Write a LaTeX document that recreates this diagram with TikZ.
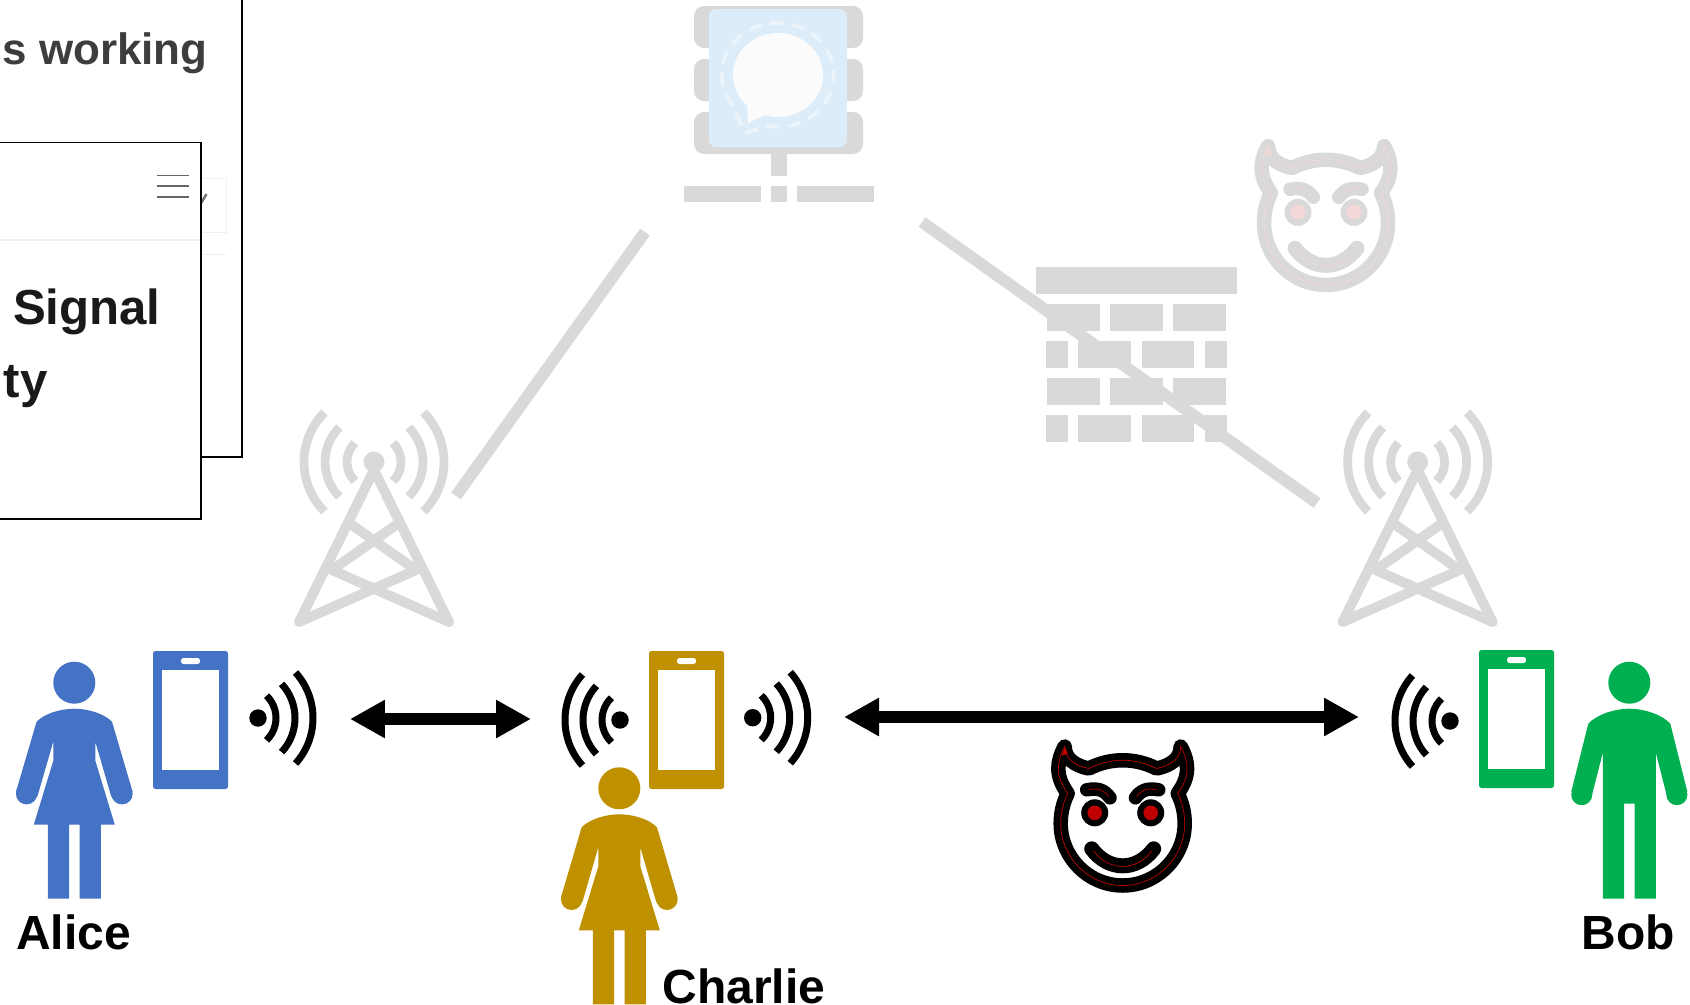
\documentclass[tikz,border=0pt]{standalone}
\usepackage{fontspec}
\setmainfont{Liberation Sans}
\usepackage{xcolor}
\usetikzlibrary{arrows.meta,positioning}
\definecolor{alicec}{HTML}{4472C4}
\definecolor{charliec}{HTML}{BF9000}
\definecolor{bobc}{HTML}{00B050}
\definecolor{faded}{HTML}{D9D9D9}
\definecolor{fadedred}{HTML}{F4D8D8}
\definecolor{devilred}{HTML}{C00000}
\definecolor{signalblue}{HTML}{DDECF9}
\definecolor{signalring}{HTML}{EBF4FB}
\definecolor{bubble}{HTML}{FBFBFB}
\definecolor{webline}{HTML}{EFEFEF}
\tikzset{
  namelabel/.style={font=\fontsize{27.3}{30}\selectfont\bfseries, inner sep=0pt},
  webtext/.style={font=\fontsize{#1}{30}\selectfont\bfseries, inner sep=0pt, anchor=base east},
  link/.style={draw=faded, line width=0.235cm},
  duplex/.style={{Triangle[length=0.7cm,width=0.72cm]}-{Triangle[length=0.7cm,width=0.72cm]}, line width=0.245cm, draw=black},
  webframe/.style={draw=black, fill=white, line width=0.034cm},
  pics/woman/.style={code={
    \fill[#1] (0,0) circle (21);
    \fill[#1] (-47.7,111) circle (10.7) (47.7,111) circle (10.7);
    \fill[#1] (0,26) .. controls (-14,26) and (-30,31) .. (-37.7,39) -- (-58.3,109) -- (-37,114) -- (-21,59) -- (-21,78)
      -- (-40.5,142) -- (-26.5,142) -- (-26.5,216) -- (-5.3,216) -- (-5.3,142) -- (5.3,142) -- (5.3,216) -- (26.5,216)
      -- (26.5,142) -- (40.5,142) -- (21,78) -- (21,59) -- (37,114) -- (58.3,109) -- (37.7,39) .. controls (30,31) and (14,26) .. (0,26) -- cycle;
  }},
  pics/man/.style={code={
    \fill[#1] (0,0) circle (21);
    \fill[#1] (-47.6,112) circle (10.5) (47.6,112) circle (10.5);
    \fill[#1] (0,26) .. controls (-15,26) and (-33,32) .. (-41,41) -- (-58,109) -- (-38,115) -- (-26.5,70) -- (-26.5,216)
      -- (-5.3,216) -- (-5.3,121) -- (5.3,121) -- (5.3,216) -- (26.5,216) -- (26.5,70) -- (38,115) -- (58,109) -- (41,41)
      .. controls (33,32) and (15,26) .. (0,26) -- cycle;
  }},
  pics/phone/.style={code={
    \fill[#1, rounded corners=0.05cm] (0,0) rectangle (75,138);
    \fill[white] (9,19) rectangle (66,119);
    \fill[white, rounded corners=0.05cm] (28,7) rectangle (47,13);
  }},
  pics/waves/.style={code={
    \fill (0,0) circle (8.7);
    \foreach \r/\a in {31/46,50/43,68/42}
      {\draw[line width=0.14cm] (-13,0) ++(-\a:\r) arc[start angle=-\a, end angle=\a, radius=\r];}
  }},
  pics/tower/.style={code={
    \fill[faded] (0,0) circle (10.5);
    \foreach \r in {27,49,70}
      {\draw[faded, line width=0.175cm] (0,0) ++(-45:\r) arc[start angle=-45, end angle=45, radius=\r]
        (0,0) ++(135:\r) arc[start angle=135, end angle=225, radius=\r];}
    \draw[faded, line width=0.2cm, line join=round] (-75,160) -- (0,8) -- (75,160) -- (-42,108) -- (22,63)
      (42,108) -- (-22,63) (42,108) -- (-75,160) -- cycle;
  }},
  pics/devil/.style 2 args={code={
    \draw[#1, line width=0.29cm, line join=round] (-58,-77) .. controls (-66,-62) and (-68,-48) .. (-55,-30)
      .. controls (-60,-20) and (-62,-10) .. (-62,0) .. controls (-62,34) and (-34,62) .. (0,62)
      .. controls (34,62) and (62,34) .. (62,0) .. controls (62,-10) and (60,-20) .. (55,-30)
      .. controls (68,-48) and (66,-62) .. (58,-77) .. controls (58,-65) and (48,-58) .. (34,-55)
      .. controls (12,-66) and (-12,-66) .. (-34,-55) .. controls (-48,-58) and (-58,-65) .. (-58,-77) -- cycle;
    \draw[#2, line width=0.014cm] (-58,-77) .. controls (-66,-62) and (-68,-48) .. (-55,-30)
      .. controls (-60,-20) and (-62,-10) .. (-62,0) .. controls (-62,34) and (-34,62) .. (0,62)
      .. controls (34,62) and (62,34) .. (62,0) .. controls (62,-10) and (60,-20) .. (55,-30)
      .. controls (68,-48) and (66,-62) .. (58,-77) .. controls (58,-65) and (48,-58) .. (34,-55)
      .. controls (12,-66) and (-12,-66) .. (-34,-55) .. controls (-48,-58) and (-58,-65) .. (-58,-77) -- cycle;
    \fill[#2] (-61,-68) -- (-57.7,-76.3) -- (-54.7,-69.7) -- cycle;
    \foreach \s in {-1,1} {
      \draw[#1, line cap=round, line width=0.27cm] (\s*36,-33.7) .. controls (\s*24,-36) and (\s*18,-33) .. (\s*12.7,-25.7);
      \draw[#2, line width=0.014cm] (\s*34,-33.7) .. controls (\s*24,-36) and (\s*18,-33) .. (\s*14,-27);
      \fill[#1] (\s*28,-10.7) circle (13.5);
      \fill[#2] (\s*28,-10.7) circle (7.3);
    }
    \draw[#1, line cap=round, line width=0.3cm] (-31,25.3) .. controls (-14,48) and (14,48) .. (31,25.3);
    \draw[#2, line width=0.014cm] (-29,27.5) .. controls (-14,48) and (14,48) .. (29,27.5);
  }}
}
\begin{document}
\begin{tikzpicture}[x=0.02cm,y=-0.02cm]
  \useasboundingbox (0,0) rectangle (1690,1004);
  \clip (0,0) rectangle (1690,1004);

  \draw[webframe] (-10,-10) rectangle (242,457);
  \node[webtext=25, text=black!76] (webtitle) at (208,64) {ps working};
  \draw[webline, line width=0.02cm] (150,178) rectangle (226,232);
  \draw[webline, line width=0.02cm] (150,254) -- (226,254);
  \draw[black!55, line width=0.05cm] (200,205) -- (206.5,194);
  \draw[webframe] (-10,142.5) rectangle (201,519);
  \foreach \y in {175.7,186,197} {\draw[black!60, line width=0.028cm] (157,\y) -- (189,\y);}
  \draw[webline, line width=0.03cm] (0,240) -- (200,240);
  \node[webtext=28, text=black!90] (webhead) at (161,324) {o Signal};
  \node[webtext=28, text=black!90] (webhead2) at (48,397) {ty};

  \fill[faded, rounded corners=0.2cm] (694,6) rectangle (863,48);
  \fill[faded, rounded corners=0.2cm] (694,59) rectangle (863,101);
  \fill[faded, rounded corners=0.2cm] (694,112) rectangle (863,154);
  \fill[faded] (771,154) rectangle (787,176);
  \fill[faded] (684,186) rectangle (761,202);
  \fill[faded] (771,186) rectangle (787,202);
  \fill[faded] (797,186) rectangle (874,202);
  \fill[signalblue, rounded corners=0.14cm] (709,9) rectangle (847,147);
  \fill[bubble] (778,75) ellipse (45 and 42);
  \fill[bubble] (747,100) -- (748,123) -- (772,112) -- cycle;
  \draw[signalring, line width=0.075cm, dash pattern=on 0.27cm off 0.17cm]
    (745,133) -- (768,126) arc[start angle=100, delta angle=-315, x radius=56, y radius=52] -- cycle;

  \foreach \x/\y/\w in {1036/267/201} {\fill[faded] (\x,\y) rectangle ++(\w,27);}
  \foreach \y in {304,378} {
    \foreach \x in {1047,1110,1173} {\fill[faded] (\x,\y) rectangle ++(53,27);}
  }
  \foreach \y in {341,415} {
    \foreach \x/\w in {1046/22,1078/53,1142/52,1205/22} {\fill[faded] (\x,\y) rectangle ++(\w,27);}
  }

  \coordinate (serverleft) at (645,232);
  \coordinate (serverright) at (922,222);
  \coordinate (toweraend) at (456,496);
  \coordinate (towerbend) at (1317,503);
  \draw[link] (serverleft) -- (toweraend);
  \draw[link] (serverright) -- (towerbend);

  \pic (towera) at (374,462) {tower};
  \pic (towerb) at (1417.6,462) {tower};
  \pic (spy) at (1326,223) {devil={faded}{fadedred}};
  \pic (attacker) at (1122.7,823.5) {devil={black}{devilred}};

  \pic (alice) at (74.3,682.7) {woman=alicec};
  \pic (charlie) at (619.3,788.3) {woman=charliec};
  \pic (bob) at (1629.3,682.7) {man=bobc};
  \pic (phonea) at (153,651) {phone=alicec};
  \pic (phonec) at (649,651) {phone=charliec};
  \pic (phoneb) at (1479,650) {phone=bobc};
  \pic (wavesa) at (258,718) {waves};
  \pic[xscale=-1] (wavesc) at (620,720) {waves};
  \pic (wavesd) at (752.7,717.7) {waves};
  \pic[xscale=-1] (wavesb) at (1450,721) {waves};

  \coordinate (acleft) at (350,719);
  \coordinate (acright) at (531,719);
  \coordinate (cbleft) at (844,717);
  \coordinate (cbright) at (1359,717);
  \draw[duplex] (acleft) -- (acright);
  \draw[duplex] (cbleft) -- (cbright);

  \node[namelabel, anchor=base] (alicename) at (73.5,949) {Alice};
  \node[namelabel, anchor=base] (charliename) at (744,1003) {Charlie};
  \node[namelabel, anchor=base] (bobname) at (1628,949) {Bob};
\end{tikzpicture}
\end{document}
